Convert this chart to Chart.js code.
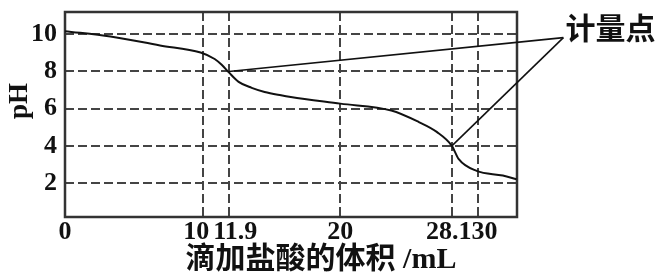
<!DOCTYPE html>
<html>
<head>
<meta charset="utf-8">
<script src="https://cdn.jsdelivr.net/npm/chart.js@4"></script>
<style>
  html, body { margin: 0; padding: 0; background: #fff; }
  #wrap { width: 657px; height: 275px; }
</style>
</head>
<body>
<div id="wrap"><canvas id="chart"></canvas></div>
<script>
// Titration curve: pH against volume of hydrochloric acid added

const volume = [0, 3.3, 6.9, 9.85, 10.87, 11.38, 11.9, 12.61, 13.56, 14.5, 15.69, 16.4, 20, 23.7, 25.7, 27.0, 28.1, 28.6, 29.9, 31.8, 32.8];
const pH     = [10.17, 9.88, 9.40, 9.02, 8.67, 8.36, 7.95, 7.44, 7.12, 6.9, 6.72, 6.63, 6.27, 5.9, 5.28, 4.75, 4.0, 3.28, 2.65, 2.4, 2.2];

// equivalence points and where the label sits
const markVolume = [11.9, 28.1];
const markPH = [8, 4];
const labelVolume = 36.2;
const labelPH = 9.82;
const labelText = "计量点";

const xTicks = [0, 10, 11.9, 20, 28.1, 30];
const xTickLabels = ["0", "10  ", "  11.9", "20", "28.1 ", "  30"];
const yTicks = [2, 4, 6, 8, 10];

const serif = "'Liberation Serif', 'Noto Sans CJK SC', serif";
const ink = "#111";
const gridColor = "#444";

const leaders = markVolume.map((v, i) => ({
    data: [{ x: labelVolume, y: labelPH }, { x: v, y: markPH[i] }],
    borderColor: ink,
    borderWidth: 1.6,
    pointRadius: 0,
    tension: 0,
    clip: false
}));

const framePlugin = {
    id: "frame",
    beforeDatasetsDraw(chart) {
        const a = chart.chartArea;
        const ctx = chart.ctx;
        ctx.save();
        ctx.strokeStyle = "#333";
        ctx.lineWidth = 2.5;
        ctx.strokeRect(a.left, a.top, a.right - a.left, a.bottom - a.top);
        ctx.restore();
    }
};

const labelPlugin = {
    id: "markLabel",
    afterDatasetsDraw(chart) {
        const ctx = chart.ctx;
        const x = chart.scales.x.getPixelForValue(labelVolume) + 2;
        const y = chart.scales.y.getPixelForValue(labelPH) - 10;
        ctx.save();
        ctx.font = "bold 30px 'Noto Sans CJK SC'";
        ctx.fillStyle = ink;
        ctx.textAlign = "left";
        ctx.textBaseline = "middle";
        ctx.fillText(labelText, x, y);
        ctx.restore();
    }
};

const ctx = document.getElementById("chart").getContext("2d");
new Chart(ctx, {
    type: "line",
    data: {
        datasets: [{
            data: volume.map((v, i) => ({ x: v, y: pH[i] })),
            borderColor: ink,
            borderWidth: 2,
            pointRadius: 0,
            cubicInterpolationMode: "monotone"
        }].concat(leaders)
    },
    options: {
        responsive: true,
        maintainAspectRatio: false,
        animation: false,
        layout: { padding: { top: 12, right: 140, left: 0, bottom: 0 } },
        plugins: { legend: { display: false }, tooltip: { enabled: false } },
        scales: {
            x: {
                type: "linear",
                min: 0,
                max: 32.83,
                afterBuildTicks: s => { s.ticks = xTicks.map(v => ({ value: v })); },
                afterFit: s => { s.height = 58; s.paddingLeft = 0; s.paddingRight = 0; },
                ticks: {
                    autoSkip: false,
                    maxRotation: 0,
                    minRotation: 0,
                    padding: 0,
                    color: ink,
                    font: { family: serif, size: 26, weight: "bold" },
                    callback: (v, i) => xTickLabels[i]
                },
                grid: {
                    drawTicks: false,
                    lineWidth: 2,
                    color: c => (c.tick && c.tick.value === 0) ? "rgba(0,0,0,0)" : gridColor
                },
                border: { display: false, dash: [9, 4] },
                title: {
                    display: true,
                    text: "\u3000\u3000滴加盐酸的体积 /mL",
                    color: ink,
                    font: { family: serif, size: 30, weight: "bold", lineHeight: 1 },
                    padding: { top: 0, bottom: 0 }
                }
            },
            y: {
                type: "linear",
                min: 0.17,
                max: 11.2,
                afterBuildTicks: s => { s.ticks = yTicks.map(v => ({ value: v })); },
                afterFit: s => { s.width = 65; s.paddingTop = 0; s.paddingBottom = 0; },
                ticks: {
                    padding: 8,
                    color: ink,
                    font: { family: serif, size: 26, weight: "bold" }
                },
                grid: { drawTicks: false, lineWidth: 2, color: gridColor },
                border: { display: false, dash: [9, 4] },
                title: {
                    display: true,
                    text: "    pH",
                    color: ink,
                    font: { family: serif, size: 27, weight: "bold", lineHeight: 1 },
                    padding: { top: 7, bottom: 0 }
                }
            }
        }
    },
    plugins: [framePlugin, labelPlugin]
});
</script>
</body>
</html>
